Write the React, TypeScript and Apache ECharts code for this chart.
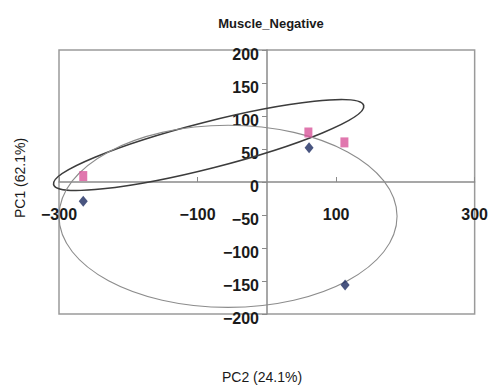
import React, { useEffect, useRef } from "react";
import * as echarts from "echarts";

const titleText = "Muscle_Negative";
const xAxisName = "PC2 (24.1%)";
const yAxisName = "PC1 (62.1%)";

// Group A (navy diamonds): [PC2, PC1]
const groupAX = [-265, 61, 113];
const groupAY = [-29, 52, -156];
// Group B (pink squares)
const groupBX = [-265, 60, 112];
const groupBY = [9, 75, 60];

// Confidence ellipses: centre (data units), semi-axes (x units / y units), tilt in degrees
const ellipseCX = [-84, -56];
const ellipseCY = [56, -52];
const ellipseRX = [231, 244];
const ellipseRY = [35, 138];
const ellipseTilt = [14.3, 0];
const ellipseColor = ["#3c3c3c", "#8c8c8c"];
const ellipseWidth = [1.6, 1.1];

const FONT = "'Liberation Sans', Arial, sans-serif";

const GRID_LEFT = 59;
const GRID_RIGHT = 16;
const GRID_TOP = 50;
const GRID_BOTTOM = 73;
const W = 491;
const H = 387;

export default function App() {
  const ref = useRef<HTMLDivElement>(null);
  useEffect(() => {
    if (!ref.current) return;
    const chart = echarts.init(ref.current, null, { renderer: "svg" });
    const ellipseData = ellipseCX.map((cx, i) => [cx, ellipseCY[i], ellipseRX[i], ellipseRY[i], ellipseTilt[i], i]);
    const plotW = W - GRID_LEFT - GRID_RIGHT;
    const plotH = H - GRID_TOP - GRID_BOTTOM;
    const fmt = (v: number) => String(v).replace("-", "\u2212");
    const labelStyle = {
      fontFamily: FONT,
      fontSize: 16,
      fontWeight: "bold",
      color: "#1a1a1a",
    };
    chart.setOption({
      animation: false,
      backgroundColor: "#ffffff",
      title: {
        text: titleText,
        left: 266,
        top: 12,
        textAlign: "center",
        textStyle: { fontFamily: FONT, fontSize: 13, fontWeight: "bold", color: "#1a1a1a" },
      },
      grid: {
        left: GRID_LEFT,
        right: GRID_RIGHT,
        top: GRID_TOP,
        bottom: GRID_BOTTOM,
        show: true,
        borderColor: "#9a9a9a",
        borderWidth: 1.5,
        backgroundColor: "transparent",
      },
      xAxis: {
        type: "value",
        min: -300,
        max: 300,
        interval: 200,
        position: "bottom",
        offset: -plotH / 2,
        axisLine: { onZero: false, lineStyle: { color: "#8a8a8a", width: 1.5 } },
        axisTick: { show: true, inside: true, length: 5, lineStyle: { color: "#8a8a8a" } },
        axisLabel: {
          margin: 24,
          showMinLabel: true,
          showMaxLabel: true,
          ...labelStyle,
          formatter: fmt,
        },
        splitLine: { show: false },
      },
      yAxis: {
        type: "value",
        min: -200,
        max: 200,
        interval: 50,
        position: "left",
        offset: -plotW / 2,
        axisLine: { onZero: false, lineStyle: { color: "#8a8a8a", width: 1.5 } },
        axisTick: { show: true, inside: false, length: 5, lineStyle: { color: "#8a8a8a" } },
        axisLabel: {
          margin: 8,
          showMinLabel: true,
          showMaxLabel: true,
          ...labelStyle,
          formatter: (v: number) => `{v|${fmt(v)}}`,
          rich: { v: { ...labelStyle, padding: [9, 0, 0, 0] } },
        },
        splitLine: { show: false },
      },
      graphic: [
        {
          type: "text",
          left: 222,
          top: 370,
          style: { text: xAxisName, font: `14px ${FONT}`, fill: "#1a1a1a" },
        },
        {
          type: "text",
          x: 13,
          y: 218,
          rotation: Math.PI / 2,
          style: { text: yAxisName, font: `14px ${FONT}`, fill: "#1a1a1a" },
        },
      ],
      series: [
        {
          type: "custom",
          clip: false,
          z: 1,
          data: ellipseData,
          renderItem: (params: any, api: any) => {
            const c = api.coord([api.value(0), api.value(1)]);
            const s = api.size([1, 1]);
            const idx = api.value(5);
            return {
              type: "ellipse",
              x: c[0],
              y: c[1],
              rotation: (api.value(4) * Math.PI) / 180,
              shape: { cx: 0, cy: 0, rx: api.value(2) * s[0], ry: api.value(3) * s[1] },
              style: { fill: "none", stroke: ellipseColor[idx], lineWidth: ellipseWidth[idx] },
            };
          },
        },
        {
          type: "scatter",
          z: 3,
          symbol: "rect",
          symbolSize: [8, 10],
          itemStyle: { color: "#d8559a" },
          data: groupBX.map((x, i) => [x, groupBY[i]]),
        },
        {
          type: "scatter",
          z: 4,
          symbol: "diamond",
          symbolSize: [9, 11],
          itemStyle: { color: "#1b2a60" },
          data: groupAX.map((x, i) => [x, groupAY[i]]),
        },
      ],
    });
    return () => chart.dispose();
  }, []);
  return <div ref={ref} style={{ position: "fixed", left: 0, top: 0, width: W, height: H }} />;
}
